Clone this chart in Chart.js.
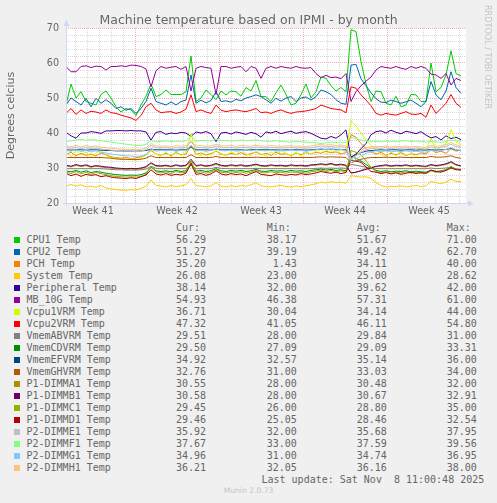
<!DOCTYPE html>
<html><head><meta charset="utf-8">
<script src="https://cdn.jsdelivr.net/npm/chart.js@4.4.1/dist/chart.umd.min.js"></script>
<style>
html,body{margin:0;padding:0;background:#f0f0f0;width:497px;height:503px;overflow:hidden;}
#wrap{position:relative;width:497px;height:503px;}
canvas{position:absolute;left:0;top:0;}
.t{position:absolute;font-family:"DejaVu Sans Mono",monospace;font-size:10px;color:#666;white-space:pre;line-height:12px;height:12px;}
.sw{position:absolute;width:6px;height:6px;}
#title{position:absolute;left:0;top:12px;width:497px;text-align:center;font-family:"DejaVu Sans",sans-serif;font-size:12.5px;line-height:15px;color:#666;white-space:nowrap;}
#rrd{position:absolute;left:483px;top:5px;writing-mode:vertical-rl;font-family:"DejaVu Sans",sans-serif;font-size:8.1px;line-height:10px;color:#c4c4c4;white-space:nowrap;}
#munin{position:absolute;left:0;width:497px;top:486px;text-align:center;font-family:"DejaVu Sans",sans-serif;font-size:7.6px;line-height:10px;color:#c4c4c4;}
</style></head>
<body><div id="wrap"><canvas id="c" width="497" height="220"></canvas><div id="legend"></div>
<div id="title">Machine temperature based on IPMI - by month</div>
<div id="rrd">RRDTOOL / TOBI OETIKER</div><div id="munin">Munin 2.0.73</div></div>
<script>
// ---- data (one sample every 10 hours of the month window) ----
const weekLabels = ['Week 41','Week 42','Week 43','Week 44','Week 45'];
const seriesNames = ['CPU1 Temp','CPU2 Temp','PCH Temp','System Temp','Peripheral Temp','MB_10G Temp','Vcpu1VRM Temp','Vcpu2VRM Temp','VmemABVRM Temp','VmemCDVRM Temp','VmemEFVRM Temp','VmemGHVRM Temp','P1-DIMMA1 Temp','P1-DIMMB1 Temp','P1-DIMMC1 Temp','P1-DIMMD1 Temp','P2-DIMME1 Temp','P2-DIMMF1 Temp','P2-DIMMG1 Temp','P2-DIMMH1 Temp'];
const seriesColors = ['#00CC00','#0066B3','#FF8000','#FFCC00','#330099','#990099','#CCFF00','#FF0000','#808080','#008F00','#00487D','#B35A00','#B38F00','#6B006B','#8FB300','#B30000','#BEBEBE','#80FF80','#80C9FF','#FFC080'];
const curVals = [56.29,51.27,35.20,26.08,38.14,54.93,36.71,47.32,29.51,29.50,34.92,32.76,30.55,30.58,29.45,29.46,35.92,37.67,34.96,36.21];
const minVals = [38.17,39.19,1.43,23.00,32.00,46.38,30.04,41.05,28.00,27.09,32.57,31.00,28.00,28.00,26.00,25.05,32.00,33.00,31.00,32.05];
const avgVals = [51.67,49.42,34.11,25.00,39.62,57.31,34.14,46.11,29.84,29.09,35.14,33.03,30.48,30.67,28.80,28.46,35.68,37.59,34.74,36.16];
const maxVals = [71.00,62.70,40.00,28.62,42.00,61.00,44.00,54.80,31.00,33.31,36.00,34.00,32.00,32.91,35.00,32.54,37.95,39.56,36.95,38.00];
const sampleHours = Array.from({length: 80}, (_, i) => i * 10);

const cpu1 = [48,54,50,51.8,49,48.5,48,51,52,50,
 47.5,46,47,46.6,45,48,50.5,54,50.4,51,
 52.3,51,51,51,51.8,62,49,50,52.3,51,
 49.5,52,50.9,52,51.8,50.5,53,52,55,50.4,
 50.4,49,51.5,53.7,51,48,48.5,51,54,50,
 51.8,56,55.6,53.5,52,53,51.8,69.5,69,60.4,
 54,49,52,51.8,48.5,48,50.5,47.5,48,51,
 50.9,49,49,60,51.8,53,56.6,63.5,57,56.3];
const cpu2 = [48,50,49,48,49.9,47.5,49.9,48.5,49.5,48.5,
 47,47.5,46.5,47,45.6,47,49,52.8,49,48.5,
 48,48.9,48,49,49.4,56.6,48.5,49.4,48.6,49.3,
 51.8,49,49.2,48.8,49.6,49.2,50,50.4,50.9,50.4,
 49.5,48.5,49.9,49.1,50,50.4,49,50,50.3,49.4,
 50.4,52.3,51.8,51,49.5,48.5,48.2,59.4,59.6,55.5,
 53.5,51.5,49.8,48.8,48.7,49.4,49,48.5,48.9,49.4,
 48.5,47.5,49,54.7,50.9,49.5,52,57.5,53,51.3];
const pch = [33.8,34.5,33.5,34.2,33.6,34,33.4,34.3,33.8,33.2,
 33,32.8,33,32.7,32.9,33.2,33.8,35,34,33.6,
 34.2,33.5,34.4,33.8,34,36.5,33.9,34.3,33.7,34.1,
 34.8,34,33.6,34.2,33.8,34.4,33.7,34.1,34.6,33.8,
 34.2,33.6,34.5,33.9,34.1,33.5,34.3,33.8,34.4,34,
 34.5,34.2,34.8,34.3,34.6,34,34.4,39.5,38.8,37,
 35.5,34.6,34,34.5,33.6,34.2,33.8,34.4,33.5,34.1,
 33.8,34.3,34,35.2,34.4,34.8,34.2,35.5,34.8,35.2];
const systemT = [24.8,25.3,24.8,25.2,24.6,24.8,24.5,25,24.3,24,
 23.8,23.7,23.6,23.8,23.7,24.2,24.8,26.6,25,24.8,
 24.6,25,24.7,24.9,25.2,27,25,24.8,24.7,24.9,
 25.8,24.8,24.6,24.9,24.7,25,24.8,25.2,25.8,24.9,
 24.7,24.6,24.8,25,24.7,24.6,24.9,24.7,24.9,25.2,
 25.5,26,25.7,26.1,25.8,26,25.6,27.8,27.6,27.4,
 27.5,27,25.8,25,24.6,24.8,24.7,24.9,24.6,24.8,
 25,24.7,24.9,26.2,25.8,25.5,26,26.8,26.2,26.1];
const peripheral = [40.2,39.2,38.5,40,40,40.4,40.2,39.9,40.6,40.6,
 40.7,40.7,40.6,40.7,40.6,40.6,40.3,38,40.2,40.4,
 39.6,40,39.8,40.2,40,39,40.3,40,40.4,39.8,
 37.5,40,40.2,39.7,40.3,40,39.6,40.2,39.8,38.8,
 40.3,40,40.5,39.8,40.2,40.5,39.9,40.2,40.4,39.9,
 39.2,38.5,38.3,39,38.5,39.5,40.9,33,34,35.5,
 37,39.5,40.4,40.6,40,40.8,40.2,39.8,40.5,40.2,
 39.8,40.4,39.4,38.6,39,38,39.2,38.4,38.8,38.1];
const mb10g = [59,57.5,57.5,59,59.2,58.7,59.1,59,58,59,
 59,59.2,59,59.4,59.3,59,58.3,53.2,57.8,59,
 58.5,58.8,59,58.2,59,52,58.5,59,58.7,58.5,
 51,59,59,58.5,58.8,59,57.5,59,58.5,55.6,
 58.5,59,58.5,59,58.7,58.5,59,58.6,58.5,58.7,
 57,55.8,56.5,55.8,56,55.5,57,49,51.8,53.5,
 54.8,56,58,59,58.7,58.5,59,58.5,58.2,59,
 58.5,59,58.5,56.8,56.6,55.6,57,53.7,55.6,55];
const vcpu1vrm = [34.5,33.2,35,33.8,34.6,33,34.2,35.2,33.5,33,
 32.8,32.5,32.4,32.6,32.3,32.8,33.6,35.5,34,33.4,
 34.6,33.2,34.8,33.6,34.4,40,34,33.5,34.8,33.6,
 35,34.2,33.4,34.7,33.8,35.2,34,33.5,34.8,34,
 33.4,34.6,33.8,35,34.2,33.6,34.5,33.3,34.7,34,
 34.8,35.3,34,35,34.4,35.2,34.6,43.5,42,40,
 38,36.5,35.2,34,33,34.6,33.4,35,33.6,34.2,
 33,34.5,35.5,38.5,35,36,37,41,37.5,36.7];
const vcpu2vrm = [45.6,47,45.3,46.6,45.6,46.2,46,45.6,46.6,45.8,
 45.6,45.1,44.7,44.3,43.6,45,47.5,48.5,46.6,45.8,
 46,46.1,45.6,46,46.8,50.9,46.1,46.6,46,45.6,
 48,46.5,46.1,46.4,46.6,46.3,46.1,46.5,47,45.8,
 46,45.6,46.2,46.6,46,45.6,46,46.1,46.3,46.6,
 47,48,47.5,47,46.8,46.6,45.8,53.2,52.8,50.9,
 49.4,47.8,45.6,45.1,45.6,45.3,45.1,45.6,46.1,45.4,
 45.3,45.6,44.5,48,45.6,47,48.5,51,48.5,47.3];
const vmemAB = [29.8,29.8,29.8,29.8,29.8,29.8,29.8,29.8,29.7,29.6,
 29.5,29.5,29.4,29.4,29.4,29.5,29.7,30.5,29.9,29.8,
 29.8,29.8,29.8,29.8,29.8,30.8,29.8,29.8,29.8,29.8,
 30.2,29.9,29.8,29.8,29.8,29.8,29.8,29.8,29.9,29.8,
 29.8,29.8,29.8,29.8,29.8,29.8,29.8,29.8,29.8,29.8,
 29.9,30,29.9,30,29.9,30,29.9,31,30.8,30.5,
 30.2,30,29.9,29.8,29.8,29.8,29.8,29.8,29.8,29.8,
 29.8,29.8,29.8,30,29.8,29.9,30,30.3,29.8,29.51];
const vmemCD = [29.2,28.9,29.3,28.8,29.2,28.7,29,28.8,28.5,28.3,
 28.1,28,27.9,28,27.9,28.1,28.6,30.2,29.2,29,
 29.2,28.9,29.3,29,29.2,31.5,29.1,29.3,29,29.2,
 29.8,29.2,29,29.3,29.1,29.3,29,29.2,29.6,29.1,
 29,29.3,29.1,29.2,29,29.3,29.1,29.2,29,29.3,
 29.5,29.7,29.4,29.6,29.3,29.5,29.2,33.2,32.8,32,
 31,30,29.3,29,29.2,28.9,29.1,29,29.2,28.9,
 29.1,28.9,28.8,29.4,29,29.2,29.5,30.2,29.6,29.5];
const vmemEF = [35.2,35.1,35.2,35.2,35.1,35.2,35.2,35.1,35,35,
 34.9,34.9,34.8,34.8,34.8,34.9,35,35.4,35.2,35.2,
 35.2,35.2,35.1,35.2,35.2,36,35.2,35.2,35.2,35.1,
 35.4,35.2,35.2,35.2,35.2,35.2,35.1,35.2,35.3,35.2,
 35.2,35.2,35.2,35.1,35.2,35.2,35.2,35.2,35.1,35.2,
 35.3,35.4,35.3,35.4,35.3,35.3,35.2,33.2,33.8,34.4,
 34.8,35,35.1,35.2,35.1,35.2,35.2,35.1,35.2,35.2,
 35.1,35.2,35.1,35.3,35.1,35.2,35.3,35.6,35.2,34.9];
const vmemGH = [33,33,33,33,33,33,33,33,32.9,32.8,
 32.6,32.5,32.5,32.4,32.4,32.5,32.8,33.5,33,33,
 33,33,33,33,33,33.8,33,33,33,33,
 33.3,33,33,33,33,33,33,33,33.1,33,
 33,33,33,33,33,33,33,33,33,33,
 33.1,33.2,33.1,33.2,33.1,33.1,33,31.5,32,32.5,
 32.8,33,33,33,33.1,33,33,33.1,33,33,
 33,33,33,33.3,33.1,33.1,33.2,33.5,33,32.76];
const dimmA1 = [30.6,30.3,30.8,30.4,30.7,30.2,30.5,30.3,30.1,30,
 29.8,29.7,29.6,29.7,29.6,29.8,30.2,31.3,30.5,30.4,
 30.6,30.3,30.7,30.4,30.6,32,30.5,30.7,30.4,30.6,
 31,30.6,30.4,30.7,30.5,30.7,30.4,30.6,30.9,30.5,
 30.4,30.7,30.5,30.6,30.4,30.7,30.5,30.6,30.4,30.7,
 30.8,31,30.8,31.1,30.7,30.9,30.6,28.5,28.8,29.3,
 29.8,30.2,30.4,30.5,30.7,30.4,30.6,30.5,30.7,30.4,
 30.6,30.4,30.3,30.8,30.5,30.7,31,31.6,30.8,30.55];
const dimmB1 = [30.8,30.5,31,30.6,30.9,30.4,30.7,30.5,30.3,30.2,
 30,29.9,29.8,29.9,29.8,30,30.4,31.5,30.7,30.6,
 30.8,30.5,30.9,30.6,30.8,32.5,30.7,30.9,30.6,30.8,
 31.3,30.8,30.6,30.9,30.7,30.9,30.6,30.8,31.1,30.7,
 30.6,30.9,30.7,30.8,30.6,30.9,30.7,30.8,30.6,30.9,
 31,31.2,31,31.3,30.9,31.1,30.8,28.6,28.8,29.2,
 29.6,30,30.5,30.7,30.9,30.6,30.8,30.7,30.9,30.6,
 30.8,30.6,30.5,31,30.7,30.9,31.2,31.8,31,30.58];
const dimmC1 = [28.9,28.4,29,28.3,28.8,28.2,28.7,28.4,28.1,27.8,
 27.6,27.5,27.4,27.5,27.4,27.6,28.2,30.5,28.9,28.6,
 28.9,28.4,29,28.6,28.8,32,28.7,28.9,28.5,28.8,
 29.5,28.8,28.6,28.9,28.7,28.9,28.5,28.8,29.3,28.7,
 28.6,28.9,28.6,28.8,28.5,28.9,28.6,28.8,28.5,28.9,
 29.1,29.4,29,29.3,28.9,29.2,28.8,35,34.5,33.8,
 32,30.2,29,28.6,28.9,28.5,28.8,28.6,28.9,28.5,
 28.8,28.5,28.4,29.2,28.8,29,29.4,30.5,29.6,29.45];
const dimmD1 = [28.5,27.8,28.3,27.6,28.2,27.9,28.1,27.5,27.8,27.4,
 27.2,27.1,27,27.2,27,27.5,28,29.5,28.3,28,
 28.4,27.9,28.2,28,28.5,31.2,28.2,28.4,27.9,28.3,
 29.2,28.3,28,28.4,28.1,28.3,27.8,28.4,29,28.2,
 28,27.8,28.3,28.1,27.9,28.2,28,28.4,28.1,28.3,
 28.6,29,28.7,28.5,28.8,28.4,28.7,32.3,32,31.6,
 30.3,29,28.8,28.4,28.7,28.3,28.6,28.2,28.5,28.8,
 28.4,28.7,28.5,29.4,29,28.8,29.3,30,29.5,29.46];
const dimmE1 = [35.8,35.6,35.9,35.5,35.8,35.6,35.7,35.4,35.3,35.1,
 35,34.9,34.8,34.8,34.7,34.9,35.2,36.5,35.8,35.7,
 35.8,35.6,35.8,35.7,35.9,37.5,35.8,35.9,35.7,35.8,
 36.3,35.9,35.8,35.9,35.7,35.9,35.8,35.7,36,35.8,
 35.7,35.9,35.8,35.7,35.8,35.9,35.7,35.8,35.6,35.8,
 36,36.3,36,36.2,35.9,36.1,35.8,32.5,33.5,34.5,
 35.2,35.6,35.7,35.6,35.8,35.5,35.7,35.6,35.8,35.5,
 35.7,35.5,35.4,36,35.7,35.9,36.2,36.8,36.1,35.92];
const dimmF1 = [37.5,37.8,38,38.2,37.9,38.1,38,37.8,37.6,37.4,
 37.2,37,36.8,36.6,36.5,36.4,36.8,37.8,37.5,37.6,
 37.8,37.5,37.7,37.6,37.8,39.3,37.6,37.8,37.9,37.7,
 38.2,37.8,37.9,37.7,37.8,38,37.8,37.9,38,37.8,
 37.7,37.6,37.8,37.6,37.5,37.4,37.6,37.5,37.4,37.3,
 37.2,37,37.2,37.4,37.3,37.2,37.3,38.8,38.4,38,
 37.8,37.6,37.6,37.5,37.7,37.6,37.6,37.7,37.8,37.6,
 37.7,37.6,37.4,37.6,37.5,37.3,37.6,38,37.8,37.67];
const dimmG1 = [35,34.8,35.2,34.7,35,34.6,34.9,34.5,34.3,34,
 33.8,33.6,33.5,33.4,33.3,33.4,33.8,35.5,34.8,35,
 34.9,35.1,34.8,35,34.9,36.5,34.9,35,34.8,35,
 35.5,35,34.9,35.1,34.8,35,35.1,34.9,35.2,35,
 34.9,35.1,34.8,35,34.9,35.2,34.9,35,34.8,35,
 35.2,35.5,35.2,35.4,35.1,35.3,35,31.5,32.5,33.5,
 34.2,34.6,34.9,34.7,34.9,34.6,34.8,34.7,34.9,34.6,
 34.8,34.6,34.5,35.2,34.8,35,35.3,35.8,35.2,34.96];
const dimmH1 = [36.3,36.1,36.5,36,36.4,36.1,36.3,35.9,35.8,35.6,
 35.5,35.4,35.3,35.3,35.2,35.4,35.7,37,36.3,36.2,
 36.3,36.1,36.4,36.2,36.4,37.8,36.3,36.4,36.2,36.3,
 36.8,36.4,36.3,36.4,36.2,36.4,36.3,36.2,36.5,36.3,
 36.2,36.4,36.3,36.2,36.3,36.4,36.2,36.3,36.1,36.3,
 36.5,36.8,36.5,36.7,36.4,36.6,36.3,32.5,33.5,35,
 35.8,36.1,36.2,36.1,36.3,36,36.2,36.1,36.3,36,
 36.2,36,35.9,36.5,36.2,36.4,36.7,37.3,36.6,36.21];

const seriesValues = [cpu1,cpu2,pch,systemT,peripheral,mb10g,vcpu1vrm,vcpu2vrm,vmemAB,vmemCD,vmemEF,vmemGH,dimmA1,dimmB1,dimmC1,dimmD1,dimmE1,dimmF1,dimmG1,dimmH1];

// ---- time axis layout (hours from the graph start) ----
const HOURS_SPAN = 800;
const FIRST_WEEK_BOUNDARY = 138;   // hour of first week boundary inside the window
const WEEK = 168, DAY = 24;
const FIRST_LABEL = FIRST_WEEK_BOUNDARY - WEEK / 2; // label centred in week 41

const N = seriesValues.length;
const datasets = seriesValues.map((vals, i) => ({
  label: seriesNames[i],
  data: vals.map((v, k) => ({x: sampleHours[k], y: v})),
  borderColor: seriesColors[i],
  backgroundColor: seriesColors[i],
  borderWidth: 1,
  pointRadius: 0,
  tension: 0,
  fill: false,
  order: N - i
}));

const MINOR = 'rgba(150,150,150,0.38)';
const MAJOR = 'rgba(222,79,79,0.45)';

const canvasBg = {
  id: 'canvasBg',
  beforeDraw(chart) {
    const {ctx, chartArea: a} = chart;
    ctx.save();
    ctx.fillStyle = '#ffffff';
    ctx.fillRect(a.left, a.top, a.right - a.left, a.bottom - a.top);
    ctx.restore();
  }
};
const axisArrows = {
  id: 'axisArrows',
  afterDraw(chart) {
    const {ctx, chartArea: a} = chart;
    ctx.save();
    ctx.strokeStyle = '#CFD6F8';
    ctx.fillStyle = '#CFD6F8';
    ctx.lineWidth = 1;
    ctx.beginPath();
    ctx.moveTo(a.left + 0.5, a.bottom + 3);
    ctx.lineTo(a.left + 0.5, a.top - 4);
    ctx.moveTo(a.left - 3, a.bottom + 0.5);
    ctx.lineTo(a.right + 4, a.bottom + 0.5);
    ctx.stroke();
    ctx.beginPath();
    ctx.moveTo(a.left - 2.5, a.top - 2);
    ctx.lineTo(a.left + 3.5, a.top - 2);
    ctx.lineTo(a.left + 0.5, a.top - 8);
    ctx.closePath();
    ctx.fill();
    ctx.beginPath();
    ctx.moveTo(a.right + 2, a.bottom - 2.5);
    ctx.lineTo(a.right + 2, a.bottom + 3.5);
    ctx.lineTo(a.right + 8, a.bottom + 0.5);
    ctx.closePath();
    ctx.fill();
    ctx.restore();
  }
};

const xTickValues = [];
for (let h = (FIRST_LABEL % 12); h <= HOURS_SPAN; h += 12) xTickValues.push(h);

new Chart(document.getElementById('c'), {
  type: 'line',
  data: {datasets},
  plugins: [canvasBg, axisArrows],
  options: {
    responsive: false,
    animation: false,
    devicePixelRatio: 1,
    events: [],
    layout: {padding: {left: 0, right: 31, top: 28, bottom: 0}},
    plugins: {
      legend: {display: false},
      tooltip: {enabled: false},
      title: {display: false}
    },
    scales: {
      x: {
        type: 'linear',
        min: 0, max: HOURS_SPAN,
        afterFit: s => { s.height = 17; },
        afterBuildTicks: s => { s.ticks = xTickValues.map(v => ({value: v})); },
        grid: {
          drawTicks: false,
          lineWidth: 1,
          color: c => {
            const v = c.tick ? c.tick.value : 0;
            if ((v - FIRST_WEEK_BOUNDARY) % DAY !== 0) return 'rgba(0,0,0,0)';
            if ((v - FIRST_WEEK_BOUNDARY) % WEEK === 0) return MAJOR;
            return MINOR;
          }
        },
        border: {display: false, dash: [1, 1]},
        ticks: {
          autoSkip: false, maxRotation: 0, minRotation: 0, padding: 3,
          color: '#666666',
          font: {family: 'DejaVu Sans', size: 9.6},
          callback: v => {
            const k = (v - FIRST_LABEL) / WEEK;
            return (Number.isInteger(k) && k >= 0 && k < weekLabels.length) ? weekLabels[k] : '';
          }
        }
      },
      y: {
        type: 'linear',
        min: 20, max: 70,
        afterFit: s => { s.width = 66; },
        grid: {
          drawTicks: false,
          lineWidth: 1,
          color: c => (c.tick && c.tick.value % 10 === 0) ? MAJOR : MINOR
        },
        border: {display: false, dash: [1, 1]},
        title: {
          display: true,
          text: 'Degrees celcius',
          color: '#666666',
          font: {family: 'DejaVu Sans', size: 11.1, lineHeight: 1.2},
          padding: {top: 4.5, bottom: 0}
        },
        ticks: {
          autoSkip: false, stepSize: 2, padding: 7,
          color: '#666666',
          font: {family: 'DejaVu Sans', size: 9.6},
          callback: v => (v % 10 === 0) ? String(v) : ''
        }
      }
    }
  }
});

// ---- legend (text table below the graph) ----
const lg = document.getElementById('legend');
function addText(txt, left, top) {
  const d = document.createElement('div');
  d.className = 't';
  d.style.left = left + 'px';
  d.style.top = top + 'px';
  d.textContent = txt;
  lg.appendChild(d);
}
const colX = [176, 266.7, 356.7, 446.7];
['Cur:', 'Min:', 'Avg:', 'Max:'].forEach((h, j) => addText(h, colX[j], 222));
const fmt = v => v.toFixed(2).padStart(5, ' ');
seriesNames.forEach((name, i) => {
  const top = 234 + 12 * i;
  const sw = document.createElement('div');
  sw.className = 'sw';
  sw.style.left = '14px';
  sw.style.top = (top + 3) + 'px';
  sw.style.background = seriesColors[i];
  lg.appendChild(sw);
  addText(name, 26.5, top);
  [curVals, minVals, avgVals, maxVals].forEach((arr, j) => addText(fmt(arr[i]), colX[j], top));
});
addText('Last update: Sat Nov  8 11:00:48 2025', 261.5, 474);
</script>
</body></html>
